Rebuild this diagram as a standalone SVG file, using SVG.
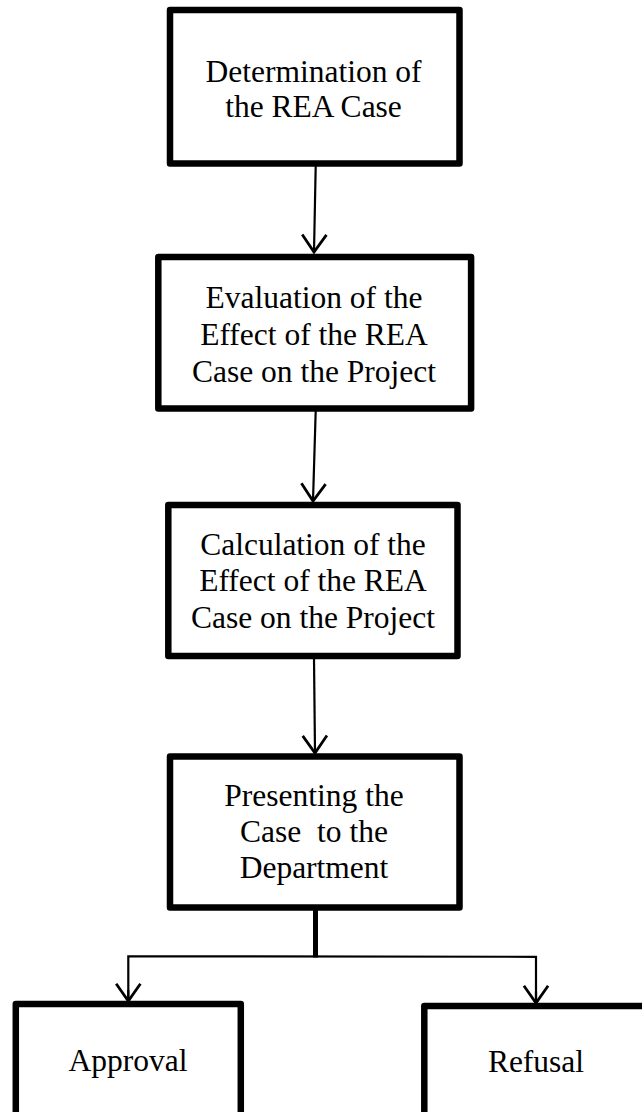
<svg xmlns="http://www.w3.org/2000/svg" width="642" height="1112" viewBox="0 0 642 1112">
<style>
.box{fill:#fff;stroke:#000;stroke-width:6.5;stroke-linejoin:round}
.lbl{font-family:"Liberation Serif","Times New Roman",serif;font-size:31.5px;fill:#000;text-anchor:middle}
.conn{fill:none;stroke:#000;stroke-width:2.2}
</style>
<defs>
<marker id="ah" markerUnits="userSpaceOnUse" markerWidth="30" markerHeight="30" viewBox="-17 -13 20 26" refX="0" refY="0" orient="auto">
<path d="M-15,-10.5 L0,0 L-15,10.5" fill="none" stroke="#000" stroke-width="2.4" stroke-linejoin="miter"/>
</marker>
</defs>
<rect width="642" height="1112" fill="#fff"/>
<g id="connectors">
<line class="conn" x1="315.7" y1="166" x2="314" y2="252" marker-end="url(#ah)"/>
<line class="conn" x1="315.7" y1="411" x2="313" y2="501" marker-end="url(#ah)"/>
<line class="conn" x1="314" y1="658" x2="315" y2="753" marker-end="url(#ah)"/>
<line x1="315.5" y1="910" x2="315.5" y2="957.5" stroke="#000" stroke-width="5"/>
<polyline class="conn" points="128.3,1001 128.3,956.3 536,956.8 536,1003" stroke-linejoin="miter"/>
<line class="conn" x1="128.3" y1="990" x2="128.3" y2="1001" marker-end="url(#ah)"/>
<line class="conn" x1="536" y1="992" x2="536" y2="1003" marker-end="url(#ah)"/>
</g>
<g id="node1">
<rect class="box" x="170" y="10" width="289.5" height="153.5"/>
<text class="lbl" x="313.5" y="82">Determination of</text>
<text class="lbl" x="313.5" y="117">the REA Case</text>
</g>
<g id="node2">
<rect class="box" x="158.3" y="257" width="312.8" height="151.5"/>
<text class="lbl" x="314" y="308">Evaluation of the</text>
<text class="lbl" x="314" y="345">Effect of the REA</text>
<text class="lbl" x="314" y="381.7">Case on the Project</text>
</g>
<g id="node3">
<rect class="box" x="168.3" y="505" width="289.2" height="151"/>
<text class="lbl" x="313" y="555">Calculation of the</text>
<text class="lbl" x="313" y="591">Effect of the REA</text>
<text class="lbl" x="313" y="628">Case on the Project</text>
</g>
<g id="node4">
<rect class="box" x="170" y="756.5" width="289.5" height="151"/>
<text class="lbl" x="314" y="805.7">Presenting the</text>
<text class="lbl" x="314" y="841.7" xml:space="preserve">Case  to the</text>
<text class="lbl" x="314" y="878.3">Department</text>
</g>
<g id="node5">
<rect class="box" x="15.8" y="1004" width="225" height="120"/>
<text class="lbl" x="128" y="1070.7">Approval</text>
</g>
<g id="node6">
<rect class="box" x="424.3" y="1006" width="230" height="120"/>
<text class="lbl" x="536" y="1072">Refusal</text>
</g>
</svg>
